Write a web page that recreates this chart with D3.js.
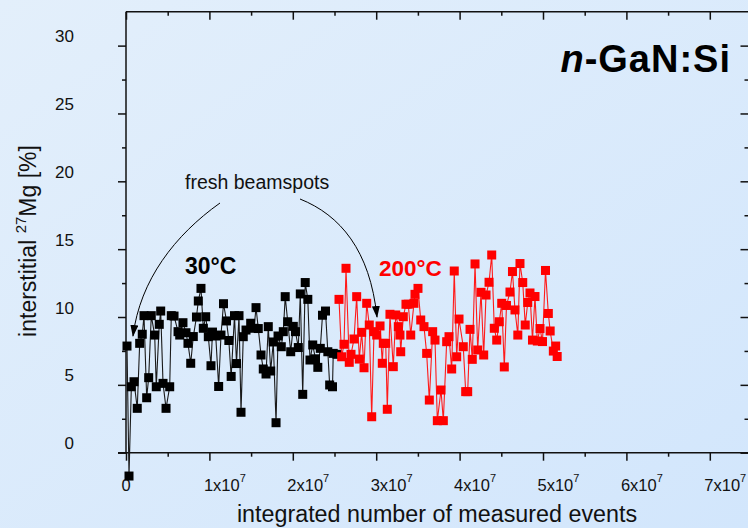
<!DOCTYPE html>
<html><head><meta charset="utf-8">
<script src="https://cdn.jsdelivr.net/npm/d3@7"></script>
<style>html,body{margin:0;padding:0;overflow:hidden;background:#dcecfb;} svg{display:block;font-family:"Liberation Sans",Arial,Helvetica,sans-serif;}</style>
</head><body><svg id="c" width="748" height="528"></svg>
<script>
// x in units of 10^6 measured events, y in %
const blackX = [0.12,0.36,0.64,0.96,1.35,1.64,1.95,2.16,2.48,2.72,3.03,3.44,3.63,3.99,4.16,4.44,4.80,5.24,5.43,5.76,6.24,6.44,6.83,7.19,7.43,7.76,8.07,8.45,8.67,8.99,9.27,9.56,9.87,10.19,10.37,10.76,11.11,11.39,11.69,12.05,12.33,12.61,13.01,13.25,13.55,13.79,14.06,14.39,14.95,15.35,15.59,15.86,16.19,16.46,16.79,17.06,17.35,17.66,17.99,18.23,18.62,18.86,19.09,19.39,19.75,20.06,20.32,20.66,20.90,21.19,21.49,21.80,22.06,22.39,22.72,23.00,23.30,23.56,23.92,24.20,24.42,24.76,24.85,25.30];
const blackY = [7.86,-1.72,4.86,5.23,3.27,8.06,8.73,10.10,4.05,5.53,10.10,8.67,4.86,9.46,10.44,5.11,3.27,4.86,10.10,10.07,8.92,8.67,9.58,8.84,8.06,6.59,8.56,10.00,11.18,12.11,9.17,10.02,8.55,6.41,8.89,8.60,4.88,8.67,10.98,9.71,8.27,5.62,10.10,6.57,10.10,2.98,8.55,9.04,9.54,9.17,10.69,9.15,7.20,6.17,5.80,9.29,6.02,8.16,2.21,8.60,7.81,8.92,11.50,9.65,7.44,9.31,8.92,7.75,11.70,4.30,12.54,11.30,6.83,7.94,6.92,6.29,7.69,10.13,10.44,7.44,4.99,4.86,7.32,7.25];
const redX = [25.54,25.86,26.14,26.38,26.77,26.98,27.34,27.66,27.97,28.26,28.54,28.86,29.17,29.46,29.74,30.06,30.46,30.73,30.85,31.14,31.33,31.65,32.05,32.34,32.65,32.85,32.94,33.25,33.57,33.85,34.14,34.53,34.65,35.01,35.34,35.73,36.05,36.37,36.77,37.05,37.33,37.77,38.05,38.45,38.73,39.05,39.36,39.65,39.93,40.44,40.73,40.97,41.25,41.52,41.85,42.17,42.57,42.89,43.17,43.53,43.85,44.16,44.45,44.76,45.05,45.36,45.62,46.04,46.34,46.64,46.98,47.24,47.57,47.87,48.17,48.44,48.74,49.04,49.32,49.64,49.94,50.30,50.64,50.86,51.24,51.52,51.70];
const redY = [11.30,7.07,7.99,13.59,6.66,7.25,8.38,11.50,6.90,8.87,6.26,11.01,9.41,2.65,8.92,8.67,9.34,6.59,8.06,8.06,3.20,10.20,6.34,10.15,9.29,8.67,7.44,10.02,10.94,10.94,8.67,11.01,11.67,12.11,9.78,9.29,7.32,3.88,8.92,8.30,2.36,4.62,2.36,8.18,8.55,6.17,13.39,7.07,9.85,7.81,4.50,4.50,9.09,6.88,13.91,7.57,11.82,7.20,11.62,12.56,14.57,9.17,8.30,9.65,11.01,6.32,10.85,11.84,13.35,10.52,8.67,13.94,12.54,9.41,11.07,11.77,8.30,11.51,8.23,9.15,8.19,13.43,10.26,8.97,7.49,7.86,7.09];
const xTicks = [0,10,20,30,40,50,60,70];
const xTickMantissa = ["0","1x10","2x10","3x10","4x10","5x10","6x10","7x10"];
const xTickExponent = ["","7","7","7","7","7","7","7"];
const yTicks = [0,5,10,15,20,25,30];

const svg = d3.select("#c");
const W = 748, H = 528;
const defs = svg.append("defs");
const grad = defs.append("linearGradient").attr("id","bg").attr("x1","0").attr("y1","0").attr("x2","1").attr("y2","1");
grad.append("stop").attr("offset","0").attr("stop-color","#e3effb");
grad.append("stop").attr("offset","1").attr("stop-color","#d2e6fc");
const mk = defs.append("marker").attr("id","ah").attr("viewBox","0 0 12 8").attr("refX",11).attr("refY",4)
  .attr("markerWidth",12).attr("markerHeight",8).attr("markerUnits","userSpaceOnUse").attr("orient","auto");
mk.append("path").attr("d","M0,0 L12,4 L0,8 Z").attr("fill","#000");

svg.append("rect").attr("width",W).attr("height",H).attr("fill","url(#bg)");

const x = d3.scaleLinear().domain([0,75]).range([126,751.5]);
const y = d3.scaleLinear().domain([0,32.5]).range([452.7,11.7]);

const axisCol = "#111";
const fr = svg.append("g").attr("stroke",axisCol).attr("stroke-width",1.5).attr("fill","none");
fr.append("line").attr("x1",x(0)).attr("x2",x(0)).attr("y1",y(0)).attr("y2",y(32.5));
fr.append("line").attr("x1",x(0)-8).attr("x2",x(75)).attr("y1",y(0)).attr("y2",y(0));
fr.append("line").attr("x1",x(0)).attr("x2",x(75)).attr("y1",y(32.5)).attr("y2",y(32.5));

const bottomMajor = d3.axisBottom(x).tickValues(xTicks).tickSize(8).tickFormat("");
const bottomMinor = d3.axisBottom(x).tickValues(d3.range(5,75,10)).tickSize(4).tickFormat("");
const topMajor = d3.axisBottom(x).tickValues(xTicks).tickSize(8).tickFormat("");
const topMinor = d3.axisBottom(x).tickValues(d3.range(5,75,10)).tickSize(4).tickFormat("");
const leftMajor = d3.axisLeft(y).tickValues(yTicks).tickSize(8).tickFormat("");
const leftMinor = d3.axisLeft(y).tickValues(d3.range(2.5,32.5,5)).tickSize(4).tickFormat("");
const rightMajor = d3.axisLeft(y).tickValues(yTicks).tickSize(8).tickFormat("");
const rightMinor = d3.axisLeft(y).tickValues(d3.range(2.5,32.5,5)).tickSize(4).tickFormat("");
function styl(g){ g.select(".domain").remove(); g.selectAll("line").attr("stroke",axisCol).attr("stroke-width",1.5); }
svg.append("g").attr("transform",`translate(0,${y(0)})`).call(bottomMajor).call(styl);
svg.append("g").attr("transform",`translate(0,${y(0)})`).call(bottomMinor).call(styl);
svg.append("g").attr("transform",`translate(0,${y(32.5)})`).call(topMajor).call(styl);
svg.append("g").attr("transform",`translate(0,${y(32.5)})`).call(topMinor).call(styl);
svg.append("g").attr("transform",`translate(${x(0)},0)`).call(leftMajor).call(styl);
svg.append("g").attr("transform",`translate(${x(0)},0)`).call(leftMinor).call(styl);
svg.append("g").attr("transform",`translate(748.5,0)`).call(rightMajor).call(styl);
svg.append("g").attr("transform",`translate(748.5,0)`).call(rightMinor).call(styl);

const yl = svg.append("g").attr("font-size",17).attr("fill","#111").attr("text-anchor","end");
yTicks.forEach(v=>{ yl.append("text").attr("x",74).attr("y",y(v)-3.5).text(v); });
const xl = svg.append("g").attr("font-size",16.5).attr("fill","#111");
xTicks.forEach((v,i)=>{
  const t = xl.append("text").attr("y",490.5);
  if(i===0){ t.attr("x",x(v)).attr("text-anchor","middle").text(xTickMantissa[i]); }
  else {
    t.attr("x",x(v)-5.5);
    t.append("tspan").text(xTickMantissa[i]);
    t.append("tspan").attr("font-size",11).attr("dy",-9).text(xTickExponent[i]);
  }
});

svg.append("text").attr("x",437).attr("y",521.5).attr("text-anchor","middle").attr("font-size",23.3).attr("fill","#111")
  .text("integrated number of measured events");
const yt = svg.append("text").attr("transform","translate(36,241) rotate(-90)").attr("text-anchor","middle").attr("font-size",23).attr("fill","#111");
yt.append("tspan").text("interstitial ");
yt.append("tspan").attr("font-size",15).attr("dy",-10).text("27");
yt.append("tspan").attr("dy",10).text("Mg [%]");

const line = d3.line().x(d=>x(d[0])).y(d=>y(d[1]));
const blackData = blackX.map((v,i)=>[v,blackY[i]]);
const redData = redX.map((v,i)=>[v,redY[i]]);
const S = 9;
svg.append("path").datum(blackData).attr("d",line).attr("fill","none").attr("stroke","#1a1a1a").attr("stroke-width",1.1);
svg.append("g").selectAll("rect").data(blackData).join("rect")
  .attr("x",d=>x(d[0])-S/2).attr("y",d=>y(d[1])-S/2).attr("width",S).attr("height",S).attr("fill","#000");
svg.append("path").datum(redData).attr("d",line).attr("fill","none").attr("stroke","#ff1a1a").attr("stroke-width",1.1);
svg.append("g").selectAll("rect").data(redData).join("rect")
  .attr("x",d=>x(d[0])-S/2).attr("y",d=>y(d[1])-S/2).attr("width",S).attr("height",S).attr("fill","#ff0000");

svg.append("text").attr("x",185).attr("y",189).attr("font-size",19.5).attr("fill","#111").text("fresh beamspots");
svg.append("path").attr("d","M220,203 C175,235 140,280 133,336").attr("fill","none").attr("stroke","#000").attr("stroke-width",1).attr("marker-end","url(#ah)");
svg.append("path").attr("d","M300,199 C340,215 370,250 377,317").attr("fill","none").attr("stroke","#000").attr("stroke-width",1).attr("marker-end","url(#ah)");
svg.append("text").attr("x",185).attr("y",273.5).attr("font-size",23).attr("font-weight","bold").attr("fill","#000").text("30°C");
svg.append("text").attr("x",379).attr("y",275.5).attr("font-size",22.5).attr("font-weight","bold").attr("fill","#ff0000").text("200°C");
const tt = svg.append("text").attr("x",731).attr("y",71.5).attr("text-anchor","end").attr("font-size",38).attr("letter-spacing",1).attr("font-weight","bold").attr("fill","#000");
tt.append("tspan").attr("font-style","italic").text("n");
tt.append("tspan").text("-GaN:Si");
</script></body></html>
